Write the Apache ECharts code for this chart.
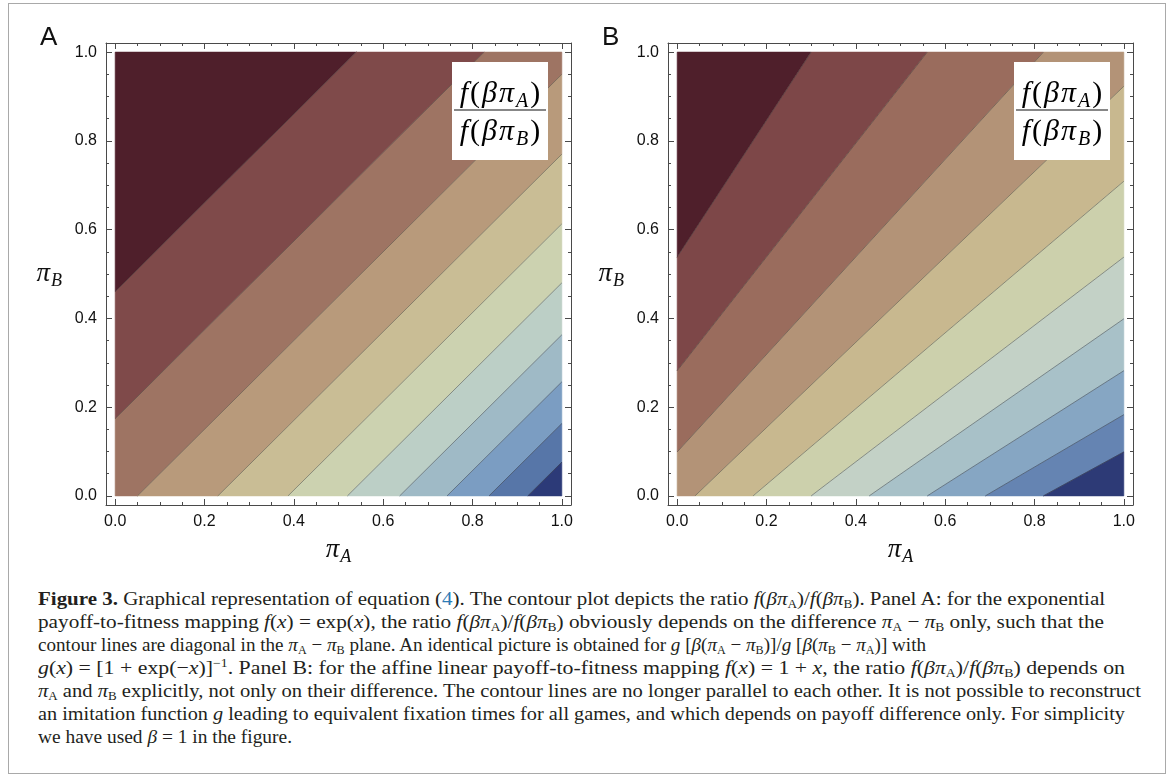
<!DOCTYPE html>
<html>
<head>
<meta charset="utf-8">
<script src="https://cdn.jsdelivr.net/npm/echarts@6.0.0/dist/echarts.min.js"></script>
<style>
  html, body { margin: 0; padding: 0; background: #fff; }
  #page { position: relative; width: 1171px; height: 774px; overflow: hidden; }
  #frame { position: absolute; left: 8px; top: 3px; width: 1156px; height: 769px; border: 1px solid #a9a9a9; }
  #chart { position: absolute; left: 0; top: 0; width: 1171px; height: 580px; }
  #caption { position: absolute; left: 38px; top: 587px; font-family: "Liberation Serif", serif; font-size: 19px; line-height: 23px; color: #231f20; }
  #caption .ln { white-space: nowrap; height: 23px; }
  #caption sub { font-size: 12px; vertical-align: -3px; line-height: 0; }
  #caption sup { font-size: 12px; vertical-align: 7px; line-height: 0; }
  #caption .ref { color: #2c7bb6; }
</style>
</head>
<body>
<div id="page">
  <div id="frame"></div>
  <div id="chart"></div>
  <div id="caption">
    <div class="ln" data-w="1067"><b>Figure 3.</b> Graphical representation of equation (<span class="ref">4</span>). The contour plot depicts the ratio <i>f</i>(<i>βπ</i><sub>A</sub>)/<i>f</i>(<i>βπ</i><sub>B</sub>). Panel A: for the exponential</div>
    <div class="ln" data-w="1066">payoff-to-fitness mapping <i>f</i>(<i>x</i>) = exp(<i>x</i>), the ratio <i>f</i>(<i>βπ</i><sub>A</sub>)/<i>f</i>(<i>βπ</i><sub>B</sub>) obviously depends on the difference <i>π</i><sub>A</sub> − <i>π</i><sub>B</sub> only, such that the</div>
    <div class="ln" data-w="888">contour lines are diagonal in the <i>π</i><sub>A</sub> − <i>π</i><sub>B</sub> plane. An identical picture is obtained for <i>g</i> [<i>β</i>(<i>π</i><sub>A</sub> − <i>π</i><sub>B</sub>)]/<i>g</i> [<i>β</i>(<i>π</i><sub>B</sub> − <i>π</i><sub>A</sub>)] with</div>
    <div class="ln" data-w="1087"><i>g</i>(<i>x</i>) = [1 + exp(−<i>x</i>)]<sup>−1</sup>. Panel B: for the affine linear payoff-to-fitness mapping <i>f</i>(<i>x</i>) = 1 + <i>x</i>, the ratio <i>f</i>(<i>βπ</i><sub>A</sub>)/<i>f</i>(<i>βπ</i><sub>B</sub>) depends on</div>
    <div class="ln" data-w="1103"><i>π</i><sub>A</sub> and <i>π</i><sub>B</sub> explicitly, not only on their difference. The contour lines are no longer parallel to each other. It is not possible to reconstruct</div>
    <div class="ln" data-w="1087">an imitation function <i>g</i> leading to equivalent fixation times for all games, and which depends on payoff difference only. For simplicity</div>
    <div class="ln" data-w="254">we have used <i>β</i> = 1 in the figure.</div>
  </div>
</div>
<script>
// contour lines: [x1, y1, x2, y2], lower-left end first
const contourA = [
  [0, 0.46, 0.54, 1],
  [0, 0.174, 0.826, 1],
  [0.05, 0, 1, 0.95],
  [0.23, 0, 1, 0.77],
  [0.387, 0, 1, 0.613],
  [0.52, 0, 1, 0.48],
  [0.637, 0, 1, 0.363],
  [0.743, 0, 1, 0.257],
  [0.837, 0, 1, 0.163],
  [0.924, 0, 1, 0.076]
];
const contourB = [
  [0, 0.538, 0.30, 1],
  [0, 0.282, 0.56, 1],
  [0, 0.099, 0.82, 1],
  [0.04, 0, 1, 0.923],
  [0.17, 0, 1, 0.709],
  [0.30, 0, 1, 0.538],
  [0.43, 0, 1, 0.399],
  [0.56, 0, 1, 0.282],
  [0.69, 0, 1, 0.183],
  [0.82, 0, 1, 0.099]
];
// band fill colours, top-left band first
const bandColorsA = ['#4f1f2b', '#7f4a4a', '#9e7463', '#b89a7b', '#c9bd95', '#ccd2b0', '#bccfc6', '#9fbac6', '#7b9dc2', '#5776a8', '#2c3a78'];
const bandColorsB = ['#4f1f2b', '#7d4748', '#9a6c5d', '#b39377', '#c8b88f', '#ccd0ac', '#c3d1c6', '#a8c1c8', '#86a6c3', '#6584b2', '#2d3a76'];
const majorTicks = [0, 0.2, 0.4, 0.6, 0.8, 1.0];
const minorTicks = [0.05, 0.1, 0.15, 0.25, 0.3, 0.35, 0.45, 0.5, 0.55, 0.65, 0.7, 0.75, 0.85, 0.9, 0.95];
const panelNames = ['A', 'B'];

const pad = 0.0205; // white margin between plot and frame
const grids = [
  { left: 106, top: 43, width: 465, height: 462 },
  { left: 668, top: 43, width: 465, height: 462 }
];
const frameColor = '#4a4a4a';
const mathFont = '"Liberation Serif", serif';

// clip polygon by the side of a line (sign 1: top-left side)
function clipHalf(poly, l, sign) {
  const side = p => sign * ((l[2] - l[0]) * (p[1] - l[1]) - (l[3] - l[1]) * (p[0] - l[0]));
  const out = [];
  for (let i = 0; i < poly.length; i++) {
    const a = poly[i], b = poly[(i + 1) % poly.length];
    const sa = side(a), sb = side(b);
    if (sa >= 0) out.push(a);
    if ((sa >= 0) !== (sb >= 0)) {
      const t = sa / (sa - sb);
      out.push([a[0] + t * (b[0] - a[0]), a[1] + t * (b[1] - a[1])]);
    }
  }
  return out;
}
function bandPolygon(lines, k) {
  let poly = [[0, 0], [1, 0], [1, 1], [0, 1]];
  if (k > 0) poly = clipHalf(poly, lines[k - 1], -1);
  if (k < lines.length) poly = clipHalf(poly, lines[k], 1);
  return poly;
}

const subRich = {
  p: { fontFamily: mathFont, fontStyle: 'italic', fontSize: 27, color: '#111' },
  s: { fontFamily: mathFont, fontStyle: 'italic', fontSize: 18, color: '#111', padding: [14, 0, 0, 1] }
};

function axisSet(gi, dim) {
  const base = {
    type: 'value', gridIndex: gi, min: -pad, max: 1 + pad,
    splitLine: { show: false }, silent: true
  };
  const line = { show: true, onZero: false, lineStyle: { color: frameColor, width: 1 } };
  const noLine = { show: false, onZero: false };
  const major = { inside: true, length: 6, customValues: majorTicks, lineStyle: { color: frameColor } };
  const minor = { inside: true, length: 3, customValues: minorTicks, lineStyle: { color: frameColor } };
  const pos = dim === 'x' ? ['bottom', 'top'] : ['left', 'right'];
  const labelled = {
    ...base, position: pos[0], axisLine: line, axisTick: major,
    axisLabel: {
      customValues: majorTicks, formatter: v => v.toFixed(1),
      color: '#111', fontSize: 16, fontFamily: '"Liberation Sans", Arial', margin: 9
    },
    name: dim === 'x' ? '{p|π}{s|A}' : '{p|π}{s|B}',
    nameLocation: 'middle',
    nameGap: dim === 'x' ? 29 : 44,
    nameRotate: 0,
    nameTextStyle: { rich: subRich }
  };
  return [
    labelled,
    { ...base, position: pos[0], axisLine: noLine, axisTick: minor, axisLabel: { show: false } },
    { ...base, position: pos[1], axisLine: line, axisTick: major, axisLabel: { show: false } },
    { ...base, position: pos[1], axisLine: noLine, axisTick: minor, axisLabel: { show: false } }
  ];
}

function bandSeries(lines, colors, gi) {
  return {
    type: 'custom', xAxisIndex: gi * 4, yAxisIndex: gi * 4, silent: true,
    data: colors.map((c, k) => [k]),
    renderItem: (params, api) => {
      const k = api.value(0);
      const pts = bandPolygon(lines, k).map(p => api.coord(p));
      return { type: 'polygon', shape: { points: pts }, style: { fill: colors[k], stroke: colors[k], lineWidth: 0.6 } };
    }
  };
}
function lineSeries(lines, gi) {
  return {
    type: 'custom', xAxisIndex: gi * 4, yAxisIndex: gi * 4, silent: true, z: 3,
    data: lines,
    renderItem: (params, api) => {
      const p1 = api.coord([api.value(0), api.value(1)]);
      const p2 = api.coord([api.value(2), api.value(3)]);
      return {
        type: 'line',
        shape: { x1: p1[0], y1: p1[1], x2: p2[0], y2: p2[1] },
        style: { stroke: 'rgba(55,55,55,0.65)', lineWidth: 0.7 }
      };
    }
  };
}

// fraction box in the upper-right corner of each panel
function legendBox(gi) {
  const g = grids[gi];
  const bx = g.left + g.width - 119, by = 62, bw = 96, bh = 98;
  const fracRich = {
    i: { fontFamily: mathFont, fontStyle: 'italic', fontSize: 30, color: '#111', padding: [0, 1, 0, 1] },
    r: { fontFamily: mathFont, fontSize: 30, color: '#111', padding: [0, 1, 0, 1] },
    s: { fontFamily: mathFont, fontStyle: 'italic', fontSize: 20, color: '#111', padding: [16, 1, 0, 1] }
  };
  return [
    { type: 'rect', shape: { x: bx, y: by, width: bw, height: bh }, style: { fill: '#fff' }, z: 10 },
    { type: 'text', x: bx + bw / 2, y: by + 32, z: 11,
      style: { text: '{i|f}{r|(}{i|β}{i|π}{s|A}{r|)}', rich: fracRich, align: 'center', verticalAlign: 'middle' } },
    { type: 'line', shape: { x1: bx + 2, y1: by + 48, x2: bx + bw - 2, y2: by + 48 }, style: { stroke: '#111', lineWidth: 1.2 }, z: 11 },
    { type: 'text', x: bx + bw / 2, y: by + 70, z: 11,
      style: { text: '{i|f}{r|(}{i|β}{i|π}{s|B}{r|)}', rich: fracRich, align: 'center', verticalAlign: 'middle' } },
    { type: 'text', x: g.left - 66, y: 38, z: 11,
      style: { text: panelNames[gi], font: '26px "Liberation Sans", Arial', fill: '#111', verticalAlign: 'middle' } }
  ];
}

const chart = echarts.init(document.getElementById('chart'), null, { renderer: 'canvas' });
chart.setOption({
  animation: false,
  grid: grids,
  xAxis: [...axisSet(0, 'x'), ...axisSet(1, 'x')],
  yAxis: [...axisSet(0, 'y'), ...axisSet(1, 'y')],
  series: [
    bandSeries(contourA, bandColorsA, 0),
    lineSeries(contourA, 0),
    bandSeries(contourB, bandColorsB, 1),
    lineSeries(contourB, 1)
  ],
  graphic: [...legendBox(0), ...legendBox(1)]
});

// squeeze each caption line to the width it has in the figure
document.querySelectorAll('#caption .ln').forEach(el => {
  const span = document.createElement('span');
  while (el.firstChild) span.appendChild(el.firstChild);
  el.appendChild(span);
  const w = span.getBoundingClientRect().width;
  const target = +el.dataset.w;
  span.style.display = 'inline-block';
  span.style.transformOrigin = '0 50%';
  span.style.transform = 'scaleX(' + (target / w).toFixed(4) + ')';
});
</script>
</body>
</html>
